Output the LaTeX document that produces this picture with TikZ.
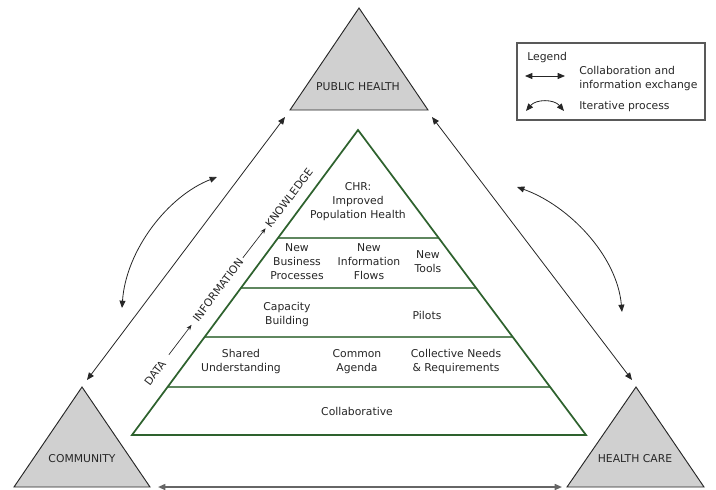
\documentclass[tikz,border=0pt]{standalone}
\usepackage{fontspec}
\setmainfont{DejaVu Sans}
\usetikzlibrary{arrows.meta,calc}
\definecolor{pyrgreen}{RGB}{46,98,46}
\definecolor{pyrline}{RGB}{95,135,95}
\definecolor{stakefill}{RGB}{208,208,208}
\definecolor{inkgray}{RGB}{38,38,38}
\begin{document}
\begin{tikzpicture}[x=0.75pt,y=-0.75pt,
  font=\fontsize{8.1}{10.5}\selectfont,
  txt/.style={align=center, text=inkgray, inner sep=0pt},
  stake/.style={draw=inkgray, fill=stakefill, line width=0.7pt, line join=miter},
  link/.style={{Triangle[length=5.5pt,width=4.5pt]}-{Triangle[length=5.5pt,width=4.5pt]}, draw=inkgray, line width=0.6pt},
  loop/.style={{Triangle[length=5.5pt,width=4.5pt]}-{Triangle[length=5.5pt,width=4.5pt]}, draw=inkgray, line width=0.6pt},
  flow/.style={-{Stealth[length=4pt,width=3.2pt]}, draw=inkgray, line width=0.5pt},
  layer/.style={draw=pyrline, line width=0.8pt},
]
\useasboundingbox (0,0) rectangle (716,489);

% stakeholder triangles
\draw[stake] (359,8) -- (428,110) -- (290,110) -- cycle;
\node[txt] (ph) at (358,87) {PUBLIC HEALTH};
\draw[stake] (82,387) -- (150,487) -- (14,487) -- cycle;
\node[txt] (co) at (82,459) {COMMUNITY};
\draw[stake] (636,387) -- (704,487) -- (567,487) -- cycle;
\node[txt] (hc) at (635,459) {HEALTH CARE};

% ends of the exchange links
\coordinate (phL) at (285,117);
\coordinate (phR) at (432,117);
\coordinate (coT) at (87,380);
\coordinate (coR) at (158,487);
\coordinate (hcT) at (632,380);
\coordinate (hcL) at (562,487);

\draw[link] (coT) -- (phL);
\draw[link] (phR) -- (hcT);
\draw[link, draw=gray!80!black, line width=1.2pt] (coR) -- (hcL);

% iterative processes
\coordinate (itL1) at (217,177);
\coordinate (itL2) at (122,308);
\coordinate (itR1) at (517,187);
\coordinate (itR2) at (622,312);
\draw[loop] (itL1) .. controls (168,196) and (126,250) .. (itL2);
\draw[loop] (itR1) .. controls (568,205) and (617,255) .. (itR2);

% pyramid
\coordinate (top) at (358,130);
\coordinate (bl) at (132,435);
\coordinate (br) at (586,435);
\foreach \t in {0.3541,0.5180,0.6787,0.8426}
  \draw[layer] ($(top)!\t!(bl)$) -- ($(top)!\t!(br)$);
\draw[draw=pyrgreen, line width=1.3pt, line join=miter] (top) -- (br) -- (bl) -- cycle;

\node[txt] (chr) at (358,202) {CHR:\\Improved\\Population Health};
\node[txt] (nbp) at (297,262) {New\\Business\\Processes};
\node[txt] (nif) at (369,262) {New\\Information\\Flows};
\node[txt] (nt) at (428,262) {New\\Tools};
\node[txt] (cb) at (287,315) {Capacity\\Building};
\node[txt] (pil) at (427,315) {Pilots};
\node[txt] (su) at (241,362) {Shared\\Understanding};
\node[txt] (ca) at (357,362) {Common\\Agenda};
\node[txt] (cnr) at (456,362) {Collective Needs\\\& Requirements};
\node[txt] (col) at (357,411) {Collaborative};

% data to knowledge progression
\node[txt, rotate=53] (data) at (155,373) {DATA};
\node[txt, rotate=53] (info) at (218,290) {INFORMATION};
\node[txt, rotate=53] (know) at (289,198) {KNOWLEDGE};
\draw[flow] ($(data)!0.22!(info)$) -- ($(data)!0.58!(info)$);
\draw[flow] ($(info)!0.35!(know)$) -- ($(info)!0.67!(know)$);

% legend
\node[draw=gray!70!black, line width=0.9pt, minimum width=141pt, minimum height=57.75pt, inner sep=0pt] (legend) at (611,81.5) {};
\node[txt, anchor=west] (legtitle) at (527,58) {Legend};
\coordinate (lgA1) at (525,76);
\coordinate (lgA2) at (565,76);
\draw[link] (lgA1) -- (lgA2);
\node[txt, anchor=west, align=left] (lgcollab) at (579,78.5) {Collaboration and\\information exchange};
\coordinate (lgB1) at (526,111);
\coordinate (lgB2) at (564,111);
\draw[loop] (lgB1) .. controls (536,99) and (554,99) .. (lgB2);
\node[txt, anchor=west] (lgiter) at (579,107) {Iterative process};
\end{tikzpicture}
\end{document}
